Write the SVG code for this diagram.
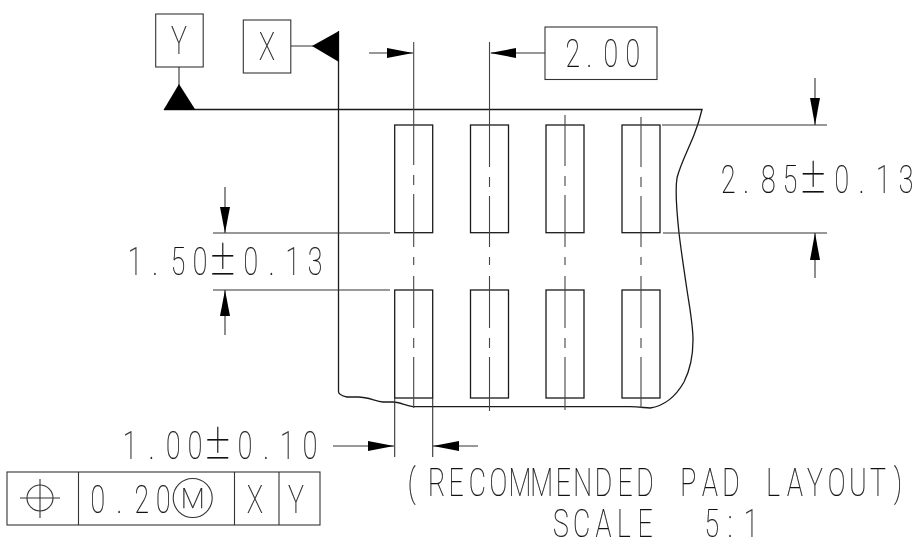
<svg xmlns="http://www.w3.org/2000/svg" width="921" height="540" viewBox="0 0 921 540">
<style>
.o{fill:none;stroke:#1a1a1a;stroke-width:1.3}
.l{fill:none;stroke:#333;stroke-width:1.1}
.c{fill:none;stroke:#444;stroke-width:1.1}
.h{fill:#000;stroke:none}
.t{font-family:Roboto,"Liberation Sans",sans-serif;font-weight:100;font-size:38px;fill:#111;text-anchor:middle;stroke:#222;stroke-width:.25}
.p{font-family:"Noto Sans CJK JP",sans-serif;font-weight:100;font-size:40px}
.tx{filter:url(#gray)}
</style>
<defs><filter id="gray" filterUnits="userSpaceOnUse" x="0" y="0" width="921" height="540" color-interpolation-filters="sRGB"><feOffset dx="0" dy="0"/></filter></defs>
<rect width="921" height="540" fill="#fff"/>
<g id="part-outline">
<path class="o" d="M164 109.500H702C700 118 698 125 694 135C688 150 680 165 677 178C675 190 676 205 679 233C681 250 684 270 687 290C690 310 693 325 693 340C693 355 691 368 684 382C676 396 664 406 650 408C645 408 640 406.700 630 406.700H413C405 405 398 402 393 402H383C375 401 368 397 358 397H347C342 396 338 394 338.500 391V31"/>
</g>
<g id="pads">
<g id="pad-1"><rect class="o" x="394.700" y="125" width="38" height="107.700"/></g>
<g id="pad-2"><rect class="o" x="470.500" y="125" width="38" height="107.700"/></g>
<g id="pad-3"><rect class="o" x="546" y="125" width="38" height="107.700"/></g>
<g id="pad-4"><rect class="o" x="622" y="125" width="38" height="107.700"/></g>
<g id="pad-5"><rect class="o" x="394.700" y="290" width="38" height="108"/></g>
<g id="pad-6"><rect class="o" x="470.500" y="290" width="38" height="108"/></g>
<g id="pad-7"><rect class="o" x="546" y="290" width="38" height="108"/></g>
<g id="pad-8"><rect class="o" x="622" y="290" width="38" height="108"/></g>
</g>
<g id="connectors">
<path class="c" d="M413.700 42V165M413.700 175V185M413.700 194V247M413.700 257V265M413.700 276V328M413.700 338V348M413.700 357V408"/>
<path class="c" d="M489.500 42V167M489.500 177V187M489.500 196V247M489.500 257V265M489.500 276V328M489.500 338V348M489.500 357V411"/>
<path class="c" d="M565 115V166M565 176V186M565 195V247M565 257V265M565 276V328M565 338V348M565 357V410"/>
<path class="c" d="M641 117V167M641 177V187M641 196V247M641 257V265M641 276V328M641 338V348M641 357V408"/>
<path class="l" d="M179 67V90M291 46H320M369 53H413M491 53H545"/>
<path class="l" d="M662 125H827M663 233H827M815 78V125M815 233V278"/>
<path class="l" d="M213 233H390M213 290H390M225 187V233M225 290V335"/>
<path class="l" d="M394.700 398V457M432.700 398V457M333 446H394M433 446H478"/>
<path class="h" d="M179 84L195.500 110H163.500Z"/>
<path class="h" d="M312 46L339 31V62Z"/>
<path class="h" d="M413 53L387 48V58Z"/>
<path class="h" d="M490 53L516 48V58Z"/>
<path class="h" d="M815 125L810 98H820Z"/>
<path class="h" d="M815 233L810 260H820Z"/>
<path class="h" d="M225 233L220 207H230Z"/>
<path class="h" d="M225 290L220 316H230Z"/>
<path class="h" d="M394 446L368 441V451Z"/>
<path class="h" d="M433 446L459 441V451Z"/>
</g>
<g id="datum-y"><rect class="l" x="155.700" y="14" width="47.500" height="53"/><g class="tx"><text class="t" transform="translate(179 54) scale(.7 1)">Y</text></g></g>
<g id="datum-x"><rect class="l" x="243.300" y="20" width="47.500" height="53"/><g class="tx"><text class="t" transform="translate(267 60) scale(.7 1)">X</text></g></g>
<g id="dim-pitch"><rect class="l" x="545" y="27" width="112" height="52.500"/><g class="tx"><text class="t" transform="translate(0 66.700) scale(.7 1)" x="818.100 841.900 872.400 903.900">2.00</text></g></g>
<g id="dim-length" class="tx"><text class="t" transform="translate(0 192.700) scale(.7 1)" x="1040.400 1065.700 1097.600 1128.600 1161.900 1202.400 1231 1261.900 1294.300">2.85<tspan class="p">±</tspan>0.13</text></g>
<g id="dim-gap" class="tx"><text class="t" transform="translate(0 275) scale(.7 1)" x="192.900 221.400 254.300 285.700 318.100 358.100 388.100 418.100 450">1.50<tspan class="p">±</tspan>0.13</text></g>
<g id="dim-width" class="tx"><text class="t" transform="translate(0 459.300) scale(.7 1)" x="185.700 216.700 247.600 278.600 311 350 380 410.400 442.900">1.00<tspan class="p">±</tspan>0.10</text></g>
<g id="feature-control-frame">
<rect class="l" x="7" y="472" width="313" height="53"/>
<path class="l" d="M78.500 472V525M234.500 472V525M279 472V525"/>
<circle class="l" cx="40" cy="498" r="13"/>
<path class="l" d="M20 498H60M40 479V518"/>
<circle class="l" cx="192.700" cy="498" r="19.500"/>
<g class="tx">
<text class="t" transform="translate(0 512.700) scale(.7 1)" x="139.600 170.400 202.400 233.300">0.20</text>
<text class="t" style="font-size:28px" transform="translate(192.700 508)">M</text>
<text class="t" transform="translate(255 512.700) scale(.7 1)">X</text>
<text class="t" transform="translate(296 512.700) scale(.7 1)">Y</text>
</g>
</g>
<g id="caption" class="tx">
<text class="t" transform="translate(0 496) scale(.7 1)" x="588.100 623.900 651.400 681.900 711.900 742.900 773.900 804.700 832.400 861.900 892.900 921.400 952.900 983.300 1014.300 1044.300 1074.300 1104.300 1135.700 1164.300 1195.300 1225.700 1254.300 1282.900">(RECOMMENDED PAD LAYOUT)</text>
<text class="t" transform="translate(0 536.700) scale(.7 1)" x="801.400 831 861.900 891.400 921.400 968.600 1016.700 1042.900 1072.900">SCALE 5:1</text>
</g>
</svg>
